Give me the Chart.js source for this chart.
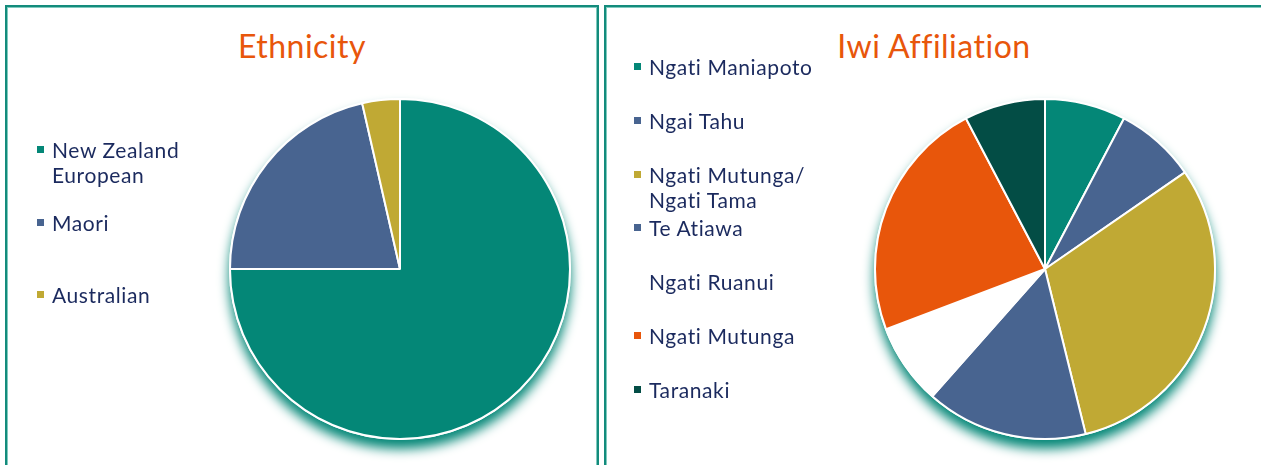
<!DOCTYPE html>
<html>
<head>
<meta charset="utf-8">
<script src="https://cdn.jsdelivr.net/npm/chart.js@4"></script>
<style>
  body { margin: 0; width: 1261px; height: 465px; overflow: hidden; background: #fff; font-family: Lato, sans-serif; }
  .panel { position: absolute; top: 5px; height: 480px; box-sizing: border-box; border: 2px solid #138b7c; box-shadow: inset 0 0 0 1px #7fcabe; }
  .title { position: absolute; top: 21px; width: 100%; text-align: center; color: #e8560b; font-size: 32px; line-height: 36px; letter-spacing: 0.5px; }
  canvas { position: absolute; left: 0; top: 0; }
  .legend { position: absolute; left: 0; top: 0; }
  .item { position: absolute; color: #1b2a5e; font-size: 21px; line-height: 25px; letter-spacing: 0.6px; white-space: nowrap; }
  .item i { position: absolute; left: -15px; top: 9px; width: 7px; height: 7px; }
</style>
</head>
<body>
<div class="panel" style="left:5px; width:594px;"><div class="title">Ethnicity</div></div>
<div class="panel" style="left:604px; width:670px;"><div class="title" style="width:656px">Iwi Affiliation</div></div>
<canvas id="ethChart" width="600" height="465" style="left:0"></canvas>
<canvas id="iwiChart" width="661" height="465" style="left:600px"></canvas>
<div class="legend" id="ethLegend"></div>
<div class="legend" id="iwiLegend"></div>
<script>
// Ethnicity counts
var ethLabels = [['New Zealand', 'European'], 'Maori', 'Australian'];
var ethData = [21, 6, 1];
var ethColors = ['#048777', '#486490', '#c0a934'];

// Iwi affiliation counts
var iwiLabels = ['Ngati Maniapoto', 'Ngai Tahu', ['Ngati Mutunga/', 'Ngati Tama'], 'Te Atiawa', 'Ngati Ruanui', 'Ngati Mutunga', 'Taranaki'];
var iwiData = [1, 1, 4, 2, 1, 3, 1];
var iwiColors = ['#048777', '#486490', '#c0a934', '#486490', '#ffffff', '#e8560b', '#034d45'];

// draw a teal drop shadow under the whole pie
var pieShadow = {
	id: 'pieShadow',
	beforeDatasetsDraw: function(chart) {
		var arc = chart.getDatasetMeta(0).data[0];
		if (!arc) return;
		var ctx = chart.ctx;
		ctx.save();
		ctx.shadowColor = 'rgba(4, 135, 119, 1)';
		ctx.shadowBlur = 12;
		ctx.shadowOffsetY = 9;
		ctx.fillStyle = '#ffffff';
		ctx.beginPath();
		ctx.arc(arc.x, arc.y, arc.outerRadius + 1, 0, Math.PI * 2);
		ctx.fill();
		ctx.restore();
	}
};

function makePie(id, labels, data, colors, padding) {
	return new Chart(document.getElementById(id), {
		type: 'pie',
		data: {
			labels: labels,
			datasets: [{
				data: data,
				backgroundColor: colors,
				borderColor: '#ffffff',
				borderWidth: 2
			}]
		},
		options: {
			responsive: false,
			animation: false,
			radius: 170,
			layout: { padding: padding },
			plugins: {
				legend: { display: false },
				tooltip: { enabled: false }
			}
		},
		plugins: [pieShadow]
	});
}

var ethChart = makePie('ethChart', ethLabels, ethData, ethColors, { left: 230, right: 30, top: 99, bottom: 26 });
var iwiChart = makePie('iwiChart', iwiLabels, iwiData, iwiColors, { left: 275, right: 46, top: 99, bottom: 26 });

function makeLegend(id, labels, colors, left, top, step) {
	var box = document.getElementById(id);
	labels.forEach(function(label, i) {
		var div = document.createElement('div');
		div.className = 'item';
		div.style.left = left + 'px';
		div.style.top = (top + i * step) + 'px';
		var mark = document.createElement('i');
		mark.style.background = colors[i];
		div.appendChild(mark);
		var lines = Array.isArray(label) ? label : [label];
		lines.forEach(function(line, j) {
			if (j > 0) div.appendChild(document.createElement('br'));
			div.appendChild(document.createTextNode(line));
		});
		box.appendChild(div);
	});
}

makeLegend('ethLegend', ethLabels, ethColors, 52, 137, 72.5);
makeLegend('iwiLegend', iwiLabels, iwiColors, 649, 54, 53.8);
</script>
</body>
</html>
